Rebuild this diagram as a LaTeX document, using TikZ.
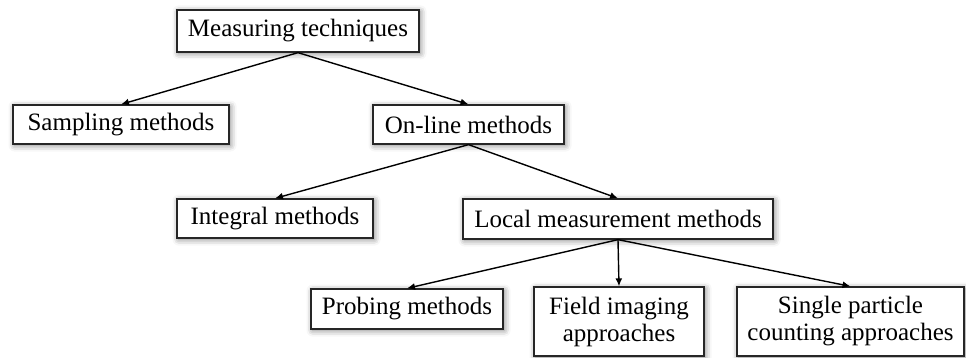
\documentclass[tikz,border=0pt]{standalone}
\usepackage{fontspec}
\setmainfont{Liberation Serif}
\usetikzlibrary{shadows.blur,arrows.meta}
\begin{document}
\begin{tikzpicture}[x=1pt,y=-1pt,
  box/.style={draw=black!85, line width=1.3pt, fill=white, inner sep=0pt, align=center,
    font=\fontsize{25}{27}\selectfont,
    blur shadow={shadow xshift=1.5pt, shadow yshift=-1.5pt, shadow blur radius=6pt, shadow opacity=50}},
  arr/.style={-{Latex[length=8pt,width=7pt]}, line width=1.4pt, black}]
\useasboundingbox (0,0) rectangle (966,358);
\node[box, minimum width=242pt, minimum height=42pt] (mt) at (298,31) {Measuring techniques};
\node[box, minimum width=216pt, minimum height=39pt] (sm) at (121,124.5) {Sampling methods};
\node[box, minimum width=191pt, minimum height=39pt] (ol) at (468.5,124.5) {On-line methods};
\node[box, minimum width=196pt, minimum height=39pt] (im) at (275,218.5) {Integral methods};
\node[box, minimum width=310pt, minimum height=40pt] (lm) at (618,219) {Local measurement methods};
\node[box, minimum width=192pt, minimum height=40pt] (pm) at (407,309) {Probing methods};
\node[box, minimum width=170pt, minimum height=69pt] (fi) at (619,321.5) {Field imaging\\approaches};
\node[box, minimum width=227pt, minimum height=69pt] (sp) at (850.5,321.5) {Single particle\\counting approaches};
\draw[arr] (mt.south) -- (sm.north);
\draw[arr] (mt.south) -- (ol.north);
\draw[arr] (ol.south) -- (im.north);
\draw[arr] (ol.south) -- (lm.north);
\draw[arr] (lm.south) -- (pm.north);
\draw[arr] (lm.south) -- (fi.north);
\draw[arr] (lm.south) -- (sp.north);
\end{tikzpicture}
\end{document}
